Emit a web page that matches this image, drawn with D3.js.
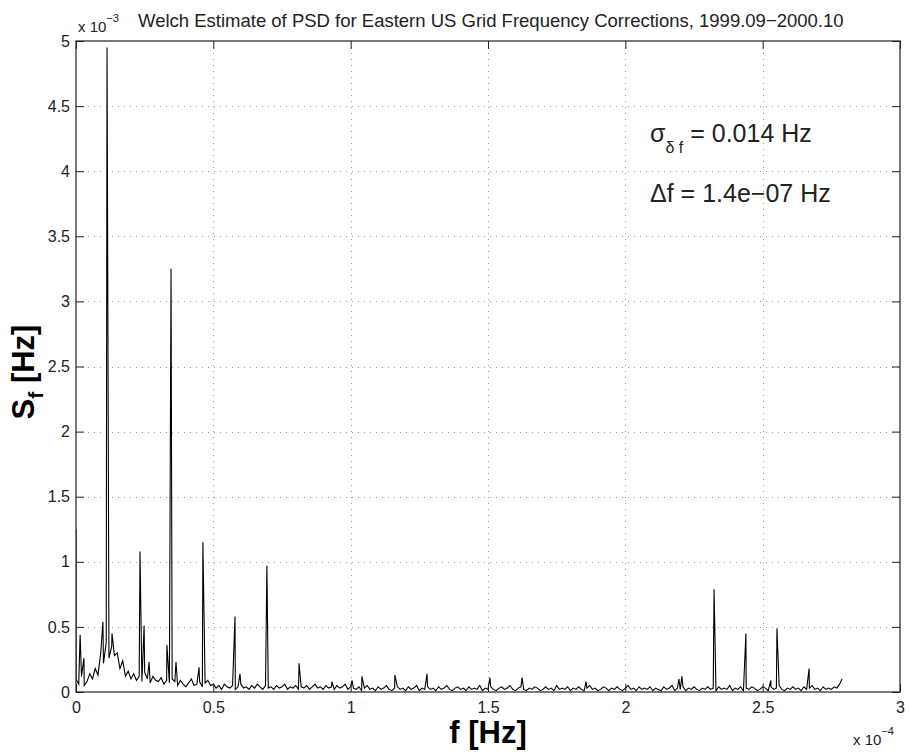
<!DOCTYPE html>
<html>
<head>
<meta charset="utf-8">
<script src="https://cdn.jsdelivr.net/npm/d3@7"></script>
<style>
  body { margin: 0; background: #fff; }
  svg text { font-family: "Liberation Sans", Arial, Helvetica, sans-serif; fill: #222; }
</style>
</head>
<body>
<svg id="chart" width="909" height="754"></svg>
<script>
// frequency in units of 1e-4 Hz, PSD in units of 1e-3 Hz
const xTicks = [0, 0.5, 1, 1.5, 2, 2.5, 3];
const yTicks = [0, 0.5, 1, 1.5, 2, 2.5, 3, 3.5, 4, 4.5, 5];

// noise floor, sampled every 0.01 (x1e-4 Hz) from 0 to 2.78
const floorStep = 0.01;
const floorValues = [
  0.10, 0.06, 0.12, 0.05, 0.08, 0.14, 0.10, 0.18, 0.13, 0.30,
  0.22, 0.38, 0.26, 0.35, 0.28, 0.30, 0.18, 0.24, 0.12, 0.16, 0.10,
  0.14, 0.09, 0.12, 0.08, 0.15, 0.10, 0.07, 0.12, 0.09, 0.08, 0.11, 0.06, 0.09, 0.07, 0.10,
  0.08, 0.05, 0.09, 0.06, 0.04, 0.07, 0.10, 0.05, 0.06, 0.08, 0.04, 0.07, 0.09, 0.05, 0.06,
  0.03, 0.05, 0.02, 0.06, 0.04, 0.03, 0.05, 0.02, 0.04, 0.06,
  0.03, 0.04, 0.02, 0.05, 0.03, 0.06, 0.04, 0.02, 0.05, 0.03,
  0.04, 0.02, 0.05, 0.03, 0.04, 0.06, 0.02, 0.04, 0.03, 0.05,
  0.02, 0.04, 0.03, 0.05, 0.02, 0.04, 0.06, 0.03, 0.04, 0.02,
  0.05, 0.03, 0.04, 0.02, 0.05, 0.03, 0.04, 0.06, 0.02, 0.04,
  0.03, 0.02, 0.04, 0.01, 0.03, 0.05, 0.02, 0.03, 0.01, 0.04,
  0.02, 0.03, 0.05, 0.02, 0.01, 0.03, 0.04, 0.02, 0.03, 0.01,
  0.04, 0.02, 0.03, 0.05, 0.01, 0.03, 0.02, 0.04, 0.02, 0.03,
  0.01, 0.04, 0.02, 0.03, 0.05, 0.02, 0.01, 0.03, 0.04, 0.02,
  0.03, 0.01, 0.04, 0.02, 0.03, 0.02, 0.05, 0.01, 0.03, 0.02,
  0.04, 0.02, 0.01, 0.03, 0.04, 0.02, 0.03, 0.05, 0.02, 0.01,
  0.03, 0.04, 0.02, 0.01, 0.03, 0.02, 0.04, 0.03, 0.01, 0.02,
  0.04, 0.02, 0.03, 0.01, 0.05, 0.02, 0.03, 0.02, 0.04, 0.01,
  0.03, 0.02, 0.04, 0.02, 0.01, 0.03, 0.05, 0.02, 0.03, 0.01,
  0.02, 0.04, 0.03, 0.01, 0.03, 0.02, 0.04, 0.02, 0.01, 0.03,
  0.05, 0.02, 0.03, 0.01, 0.04, 0.02, 0.03, 0.02, 0.04, 0.01,
  0.03, 0.02, 0.01, 0.04, 0.02, 0.03, 0.05, 0.01, 0.03, 0.02,
  0.04, 0.01, 0.03, 0.02, 0.04, 0.02, 0.01, 0.03, 0.02, 0.04,
  0.02, 0.03, 0.01, 0.04, 0.02, 0.03, 0.02, 0.05, 0.01, 0.03,
  0.02, 0.04, 0.01, 0.03, 0.02, 0.04, 0.03, 0.01, 0.02, 0.04,
  0.03, 0.01, 0.04, 0.02, 0.03, 0.05, 0.02, 0.01, 0.03, 0.02,
  0.04, 0.02, 0.03, 0.01, 0.04, 0.02, 0.03, 0.05, 0.02, 0.03,
  0.01, 0.04, 0.02, 0.03, 0.02, 0.04, 0.03, 0.06
];

// narrow spectral peaks [frequency, value]
const peaks = [
  [0.000, 1.25], [0.015, 0.44], [0.029, 0.26], [0.098, 0.54], [0.113, 4.95],
  [0.131, 0.45], [0.233, 1.08], [0.248, 0.51], [0.266, 0.23], [0.331, 0.36],
  [0.346, 3.25], [0.364, 0.23], [0.448, 0.19], [0.462, 1.15], [0.579, 0.58],
  [0.597, 0.14], [0.695, 0.97], [0.812, 0.22], [0.932, 0.08], [1.005, 0.09],
  [1.041, 0.12], [1.161, 0.13], [1.278, 0.14], [1.507, 0.11], [1.624, 0.11],
  [1.857, 0.08], [2.195, 0.10], [2.206, 0.12], [2.323, 0.79], [2.439, 0.45],
  [2.530, 0.09], [2.552, 0.49], [2.669, 0.18], [2.789, 0.10]
];

const plotLeft = 76, plotRight = 900, plotTop = 41, plotBottom = 692;
const svg = d3.select("#chart");

const x = d3.scaleLinear().domain([0, 3]).range([plotLeft, plotRight]);
const y = d3.scaleLinear().domain([0, 5]).range([plotBottom, plotTop]);

// dotted grid
const grid = svg.append("g").attr("stroke", "#9a9a9a").attr("stroke-width", 1)
  .attr("stroke-dasharray", "1,5");
grid.selectAll(".gx").data(xTicks.slice(1, -1)).join("line")
  .attr("x1", d => Math.round(x(d)) + 0.5).attr("x2", d => Math.round(x(d)) + 0.5)
  .attr("y1", plotTop).attr("y2", plotBottom);
grid.selectAll(".gy").data(yTicks.slice(1, -1)).join("line")
  .attr("y1", d => Math.round(y(d)) + 0.5).attr("y2", d => Math.round(y(d)) + 0.5)
  .attr("x1", plotLeft).attr("x2", plotRight);

// merge floor + peaks into one spectrum
const spectrum = floorValues.map((v, i) => [i * floorStep, v]);
const series = d3.sort(peaks.concat(spectrum), d => d[0]);

svg.append("clipPath").attr("id", "clip").append("rect")
  .attr("x", plotLeft).attr("y", plotTop)
  .attr("width", plotRight - plotLeft).attr("height", plotBottom - plotTop);

svg.append("path")
  .datum(series)
  .attr("clip-path", "url(#clip)")
  .attr("fill", "none")
  .attr("stroke", "#000")
  .attr("stroke-width", 1.1)
  .attr("d", d3.line().x(d => x(d[0])).y(d => y(d[1])));

// axes with inward ticks on all four sides
const fmt = d3.format("~g");
const axisStyle = g => {
  g.select(".domain").remove();
  g.selectAll("line").attr("stroke", "#222");
  g.selectAll("text").attr("font-size", 16).attr("fill", "#222")
    .attr("font-family", "'Liberation Sans', Arial, Helvetica, sans-serif");
};
svg.append("g").attr("transform", `translate(${plotLeft},0)`)
  .call(d3.axisLeft(y).tickValues(yTicks).tickFormat(fmt).tickSizeInner(-8).tickSizeOuter(0).tickPadding(6))
  .call(axisStyle);
svg.append("g").attr("transform", `translate(${plotRight},0)`)
  .call(d3.axisRight(y).tickValues(yTicks).tickFormat("").tickSizeInner(-8).tickSizeOuter(0))
  .call(axisStyle);
svg.append("g").attr("transform", `translate(0,${plotBottom})`)
  .call(d3.axisBottom(x).tickValues(xTicks).tickFormat(fmt).tickSizeInner(-8).tickSizeOuter(0).tickPadding(10))
  .call(axisStyle);
svg.append("g").attr("transform", `translate(0,${plotTop})`)
  .call(d3.axisTop(x).tickValues(xTicks).tickFormat("").tickSizeInner(-8).tickSizeOuter(0))
  .call(axisStyle);

svg.append("rect")
  .attr("x", plotLeft).attr("y", plotTop)
  .attr("width", plotRight - plotLeft).attr("height", plotBottom - plotTop)
  .attr("fill", "none").attr("stroke", "#222").attr("stroke-width", 1.2);

// exponent labels
const expY = svg.append("text").attr("x", 78).attr("y", 32).attr("font-size", 15);
expY.append("tspan").text("x 10");
expY.append("tspan").attr("dy", -10).attr("font-size", 11).text("−3");

const expX = svg.append("text").attr("x", 853).attr("y", 745).attr("font-size", 15);
expX.append("tspan").text("x 10");
expX.append("tspan").attr("dy", -10).attr("font-size", 11).text("−4");

// title
svg.append("text").attr("x", 138).attr("y", 27).attr("font-size", 18.5)
  .text("Welch Estimate of PSD for Eastern US Grid Frequency Corrections, 1999.09−2000.10");

// axis labels
svg.append("text").attr("x", 488).attr("y", 743).attr("text-anchor", "middle")
  .attr("font-size", 31).attr("font-weight", "bold").style("fill", "#000").text("f [Hz]");

const yl = svg.append("text").attr("transform", "translate(34,372) rotate(-90)")
  .attr("text-anchor", "middle").attr("font-size", 31).attr("font-weight", "bold").style("fill", "#000");
yl.append("tspan").text("S");
yl.append("tspan").attr("dy", 9).attr("font-size", 21).text("f");
yl.append("tspan").attr("dy", -9).text(" [Hz]");

// annotations
const a1 = svg.append("text").attr("x", 650).attr("y", 142).attr("font-size", 25);
a1.append("tspan").text("σ");
a1.append("tspan").attr("dy", 11).attr("font-size", 16).text("δ f");
a1.append("tspan").attr("dy", -11).text(" = 0.014 Hz");

svg.append("text").attr("x", 650).attr("y", 202).attr("font-size", 25)
  .text("Δf = 1.4e−07 Hz");
</script>
</body>
</html>
